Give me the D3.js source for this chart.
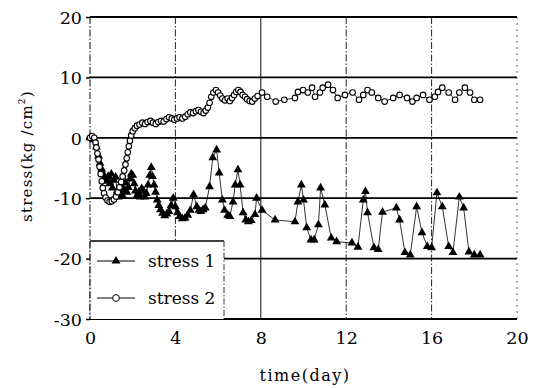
<!DOCTYPE html>
<html>
<head>
<meta charset="utf-8">
<script src="https://cdn.jsdelivr.net/npm/d3@7"></script>
<style>
  html, body { margin: 0; padding: 0; background: #fff; }
  svg { display: block; }
</style>
</head>
<body>
<svg id="chart" width="537" height="388"></svg>
<script>
// Stress readings over time: [day, kg/cm²]
const stress1 = [
  [0,0],[0.15,-0.3],[0.3,-1.5],[0.4,-3],[0.47,-4.2],[0.55,-5.2],[0.62,-6],[0.7,-6.6],[0.78,-7.2],
  [0.85,-6.4],[0.92,-7.6],[1.0,-6],[1.05,-8.3],[1.12,-7],[1.2,-6.5],[1.27,-8.8],[1.33,-9.8],
  [1.4,-9.2],[1.47,-8],[1.53,-9.6],[1.6,-8.6],[1.67,-7.4],[1.73,-9],[1.8,-8.2],[1.87,-6.8],
  [1.93,-6],[2.0,-6.2],[2.07,-7.6],[2.13,-8.8],[2.2,-9.6],[2.28,-9],[2.35,-9.8],[2.42,-8.4],
  [2.5,-8.8],[2.57,-9.8],[2.64,-9.2],[2.72,-7.8],[2.8,-6.2],[2.87,-4.9],[2.93,-6.4],[3.0,-7.8],
  [3.07,-9],[3.15,-10.3],[3.22,-11.2],[3.3,-11.9],[3.4,-12.5],[3.5,-12.9],[3.6,-12.6],[3.7,-12.2],
  [3.8,-11.2],[3.9,-10],[4.0,-11.4],[4.1,-12.4],[4.2,-13],[4.32,-13.4],[4.45,-13.3],[4.58,-12.8],
  [4.7,-12],[4.85,-9.4],[5.0,-11.4],[5.1,-12],[5.2,-12.2],[5.3,-11.9],[5.4,-11.6],[5.6,-8.1],
  [5.75,-3.3],[5.93,-2],[6.05,-5.8],[6.2,-10.3],[6.3,-12],[6.45,-12.8],[6.55,-13],[6.7,-10.6],
  [6.8,-7.8],[6.93,-5.3],[7.03,-7.8],[7.17,-12.4],[7.3,-13.6],[7.42,-13.9],[7.55,-13.7],
  [7.73,-12.7],[7.8,-10],[8.06,-12],[8.67,-13.6],[9.6,-13.9],[9.74,-10.6],[9.9,-7.8],
  [10.0,-10.3],[10.15,-14.9],[10.35,-16.9],[10.5,-16.9],[10.7,-14.4],[10.8,-8.3],[11.0,-11.1],
  [11.3,-16.6],[11.55,-17.2],[12.27,-17.4],[12.55,-18.1],[12.8,-10.3],[12.9,-8.9],[13.0,-12.4],
  [13.3,-18.2],[13.5,-18.5],[13.7,-12.3],[14.35,-11.6],[14.5,-13.6],[14.75,-19],[15.0,-19.4],
  [15.3,-11.4],[15.55,-15.7],[15.8,-18],[16.0,-18.2],[16.25,-9.1],[16.5,-11.4],[16.8,-18],
  [17.0,-19],[17.3,-9.8],[17.5,-11.6],[17.75,-18.9],[18.0,-19.4],[18.27,-19.4]
];

const stress2 = [
  [0,0],[0.1,0.3],[0.2,0],[0.26,-0.8],[0.3,-1.6],[0.35,-2.6],[0.4,-3.6],[0.45,-4.8],[0.5,-6.0],
  [0.55,-7.2],[0.6,-8.3],[0.66,-9.2],[0.73,-9.9],[0.82,-10.4],[0.92,-10.6],[1.02,-10.5],
  [1.12,-10.2],[1.22,-9.7],[1.3,-9.0],[1.38,-8.2],[1.46,-7.3],[1.53,-6.4],[1.6,-5.4],[1.66,-4.4],
  [1.72,-3.4],[1.77,-2.4],[1.82,-1.4],[1.87,-0.5],[1.93,0.4],[2.0,1.1],[2.1,1.6],[2.2,2.0],
  [2.32,2.2],[2.45,2.5],[2.58,2.3],[2.7,2.6],[2.83,2.8],[2.95,2.5],[3.08,2.3],[3.2,2.6],[3.33,2.8],
  [3.45,2.7],[3.58,3.1],[3.7,3.4],[3.83,3.2],[3.95,3.0],[4.08,3.2],[4.2,3.4],[4.33,3.2],
  [4.46,3.5],[4.58,3.9],[4.7,4.2],[4.83,4.1],[4.96,4.4],[5.08,4.6],[5.2,4.3],[5.32,4.1],[5.42,4.5],
  [5.52,5.0],[5.6,5.8],[5.68,6.8],[5.78,7.5],[5.9,7.9],[6.0,7.5],[6.1,7.0],[6.2,6.5],[6.32,6.2],
  [6.45,6.5],[6.55,6.1],[6.65,6.6],[6.75,7.1],[6.85,7.6],[6.95,7.9],[7.05,7.6],[7.15,7.1],
  [7.26,6.8],[7.36,6.4],[7.48,6.1],[7.6,6.0],[7.72,6.5],[7.85,6.9],[8.06,7.5],[8.3,6.8],[8.7,6.0],
  [9.1,6.3],[9.6,6.6],[9.74,7.6],[9.98,7.9],[10.2,7.5],[10.4,8.3],[10.54,6.8],[10.77,7.5],
  [10.9,8.3],[11.15,8.8],[11.38,7.9],[11.6,6.6],[11.94,7.1],[12.3,7.5],[12.6,6.3],[12.8,7.1],
  [13.0,7.9],[13.2,7.5],[13.5,6.6],[13.8,6.0],[14.2,6.6],[14.5,7.1],[14.85,6.6],[15.1,6.0],
  [15.3,6.6],[15.6,7.1],[15.9,6.3],[16.15,6.8],[16.3,7.6],[16.5,8.3],[16.8,7.5],[17.1,6.3],
  [17.3,7.5],[17.56,8.3],[17.8,7.5],[18.0,6.3],[18.27,6.3]
];

const xTicks = [0, 4, 8, 12, 16, 20];
const yTicks = [-30, -20, -10, 0, 10, 20];
const seriesNames = ["stress 1", "stress 2"];

const serif = "DejaVu Serif";
const svg = d3.select("#chart").attr("font-family", serif);
const plotL = 90, plotR = 517, plotT = 17, plotB = 319;

const x = d3.scaleLinear().domain([0, 20]).range([plotL, plotR]);
const y = d3.scaleLinear().domain([-30, 20]).range([plotB, plotT]);

// Legend box geometry (lower-left corner of the plot)
const legRight = 224, legTop = 241;

// Vertical grid lines (dash-dot, the one at 8 solid)
const g = svg.append("g");
xTicks.filter(t => t > 0 && t < 20).forEach(t => {
  const y2 = (t === 4) ? legTop : plotB;
  g.append("line")
    .attr("x1", x(t)).attr("x2", x(t))
    .attr("y1", plotT).attr("y2", y2)
    .attr("stroke", "#222")
    .attr("stroke-width", t === 8 ? 1.1 : 1)
    .attr("stroke-dasharray", t === 8 ? null : "7,2,1.5,2");
});

// Horizontal grid lines (solid, heavy)
yTicks.filter(t => t > -30 && t < 20).forEach(t => {
  g.append("line")
    .attr("x1", t === -20 ? legRight : plotL).attr("x2", plotR)
    .attr("y1", y(t)).attr("y2", y(t))
    .attr("stroke", "#000").attr("stroke-width", 1.8);
});

// Frame
g.append("line").attr("x1", plotL).attr("x2", plotR).attr("y1", y(20)).attr("y2", y(20))
  .attr("stroke", "#000").attr("stroke-width", 2);
g.append("line").attr("x1", plotL).attr("x2", plotR).attr("y1", y(-30)).attr("y2", y(-30))
  .attr("stroke", "#000").attr("stroke-width", 1.8);
g.append("line").attr("x1", plotL).attr("x2", plotL).attr("y1", plotT).attr("y2", plotB)
  .attr("stroke", "#222").attr("stroke-width", 1.1).attr("stroke-dasharray", "7,2,1.5,2");
g.append("line").attr("x1", plotR).attr("x2", plotR).attr("y1", plotT).attr("y2", plotB)
  .attr("stroke", "#666").attr("stroke-width", 1).attr("stroke-dasharray", "2,4");

// Axes: tick labels via d3 axes
const yAxis = d3.axisLeft(y).tickValues(yTicks).tickSize(4).tickPadding(4);
const yG = svg.append("g").attr("transform", `translate(${plotL},0)`).call(yAxis)
  .attr("font-family", serif).attr("font-size", 17.5);
yG.select(".domain").remove();
yG.selectAll(".tick line").attr("stroke", "#000").attr("stroke-width", 1.5);
yG.selectAll("text").attr("dy", "0.36em").text(d => d < 0 ? "-" + Math.abs(d) : d);

const xAxis = d3.axisBottom(x).tickValues(xTicks).tickSize(0).tickPadding(13);
const xG = svg.append("g").attr("transform", `translate(0,${plotB})`).call(xAxis)
  .attr("font-family", serif).attr("font-size", 17.5);
xG.select(".domain").remove();

// Series lines
const line = d3.line().x(d => x(d[0])).y(d => y(d[1]));
svg.append("path").datum(stress1).attr("d", line)
  .attr("fill", "none").attr("stroke", "#000").attr("stroke-width", 0.8);
svg.append("path").datum(stress2).attr("d", line)
  .attr("fill", "none").attr("stroke", "#000").attr("stroke-width", 0.8);

// Markers
const tri = d3.symbol().type(d3.symbolTriangle).size(34);
svg.append("g").selectAll("path").data(stress1).join("path")
  .attr("d", tri)
  .attr("transform", d => `translate(${x(d[0])},${y(d[1])})`)
  .attr("fill", "#000");

svg.append("g").selectAll("circle").data(stress2).join("circle")
  .attr("cx", d => x(d[0])).attr("cy", d => y(d[1])).attr("r", 2.8)
  .attr("fill", "#fff").attr("stroke", "#000").attr("stroke-width", 1.1);

// Legend
const leg = svg.append("g");
leg.append("rect").attr("x", plotL + 0.5).attr("y", legTop).attr("width", legRight - plotL - 0.5)
  .attr("height", plotB - legTop).attr("fill", "#fff");
leg.append("line").attr("x1", plotL).attr("x2", legRight).attr("y1", legTop).attr("y2", legTop)
  .attr("stroke", "#000").attr("stroke-width", 1.5);
leg.append("line").attr("x1", legRight).attr("x2", legRight).attr("y1", legTop).attr("y2", plotB)
  .attr("stroke", "#333").attr("stroke-width", 1).attr("stroke-dasharray", "6,2,1.5,2");
leg.append("line").attr("x1", plotL).attr("x2", plotL).attr("y1", legTop).attr("y2", plotB)
  .attr("stroke", "#222").attr("stroke-width", 1.1).attr("stroke-dasharray", "7,2,1.5,2");

const legY = [261, 298];
seriesNames.forEach((name, i) => {
  leg.append("line").attr("x1", 97).attr("x2", 135).attr("y1", legY[i]).attr("y2", legY[i])
    .attr("stroke", "#000").attr("stroke-width", 1);
  if (i === 0) {
    leg.append("path").attr("d", tri).attr("transform", `translate(116,${legY[i]})`).attr("fill", "#000");
  } else {
    leg.append("circle").attr("cx", 116).attr("cy", legY[i]).attr("r", 3.4)
      .attr("fill", "#fff").attr("stroke", "#000").attr("stroke-width", 1);
  }
  leg.append("text").attr("x", 148).attr("y", legY[i] + 6)
    .attr("font-family", serif).attr("font-size", 17).text(name);
});

// Axis titles
svg.append("text").attr("x", 305).attr("y", 381).attr("text-anchor", "middle")
  .attr("font-family", serif).attr("font-size", 16).attr("letter-spacing", 1.5).text("time(day)");

const yt = svg.append("text")
  .attr("transform", "translate(32,156) rotate(-90)")
  .attr("text-anchor", "middle")
  .attr("font-family", serif).attr("font-size", 15).attr("letter-spacing", 1.2);
yt.append("tspan").text("stress(kg /cm");
yt.append("tspan").attr("dy", -7).attr("font-size", 9).text("2");
yt.append("tspan").attr("dy", 7).text(")");
</script>
</body>
</html>
